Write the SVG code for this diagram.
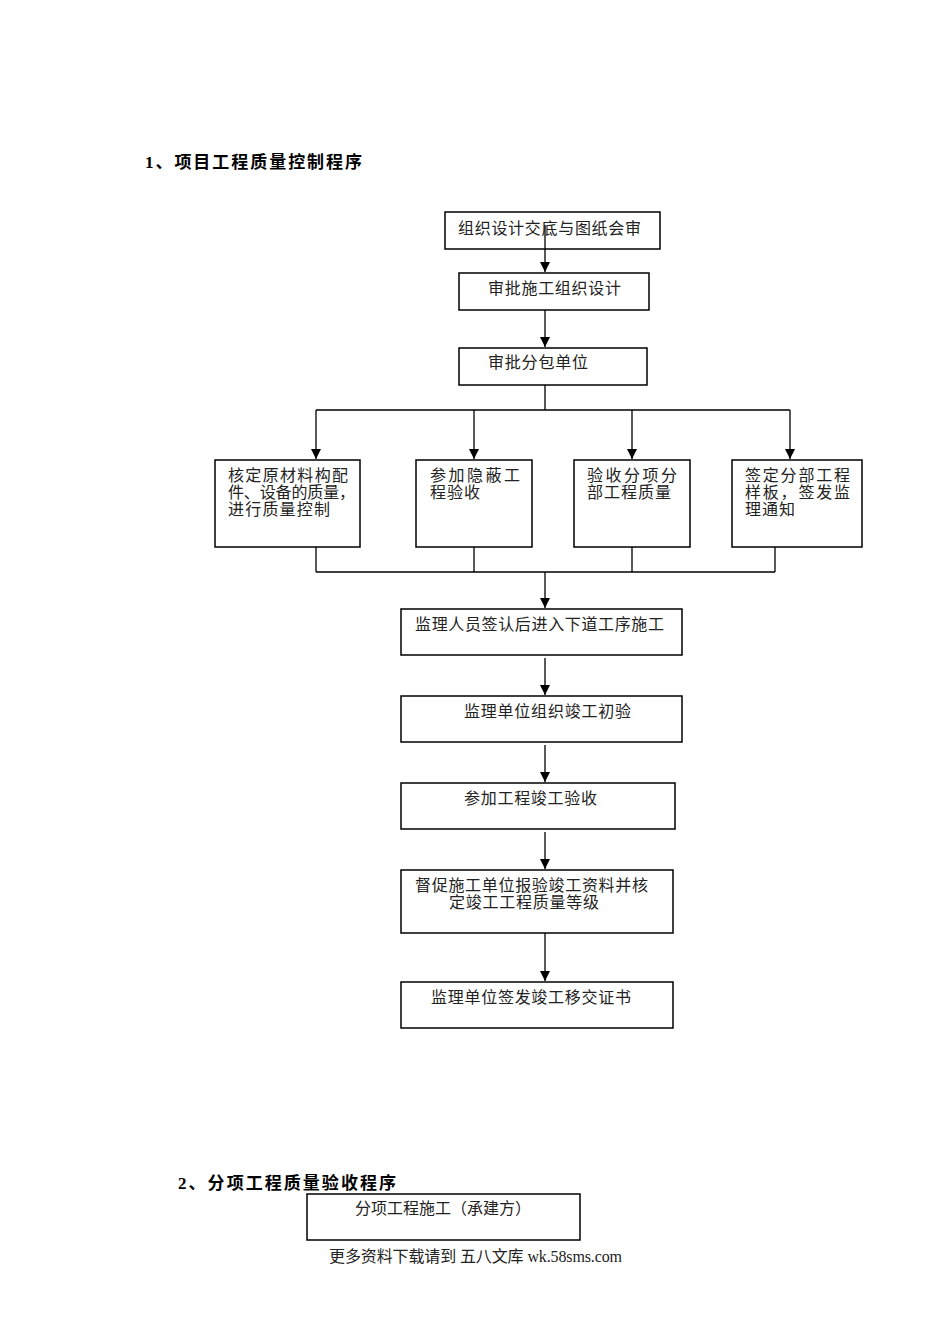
<svg xmlns="http://www.w3.org/2000/svg" width="950" height="1344" viewBox="0 0 950 1344">
<defs>
<marker id="arr" viewBox="0 0 10 10" refX="10" refY="5" markerWidth="10" markerHeight="10" markerUnits="userSpaceOnUse" orient="auto">
<path d="M0,0 L10,5 L0,10 Z" fill="#000"/>
</marker>
<style>
.box{fill:#fff;stroke:#000;stroke-width:1.5}
.t{font-family:"Liberation Serif","Noto Sans CJK SC",serif;font-size:16px;fill:#222}
.h{font-family:"Liberation Serif","Noto Sans CJK SC",serif;font-size:17px;font-weight:bold;fill:#000}
.c{fill:none;stroke:#000;stroke-width:1.3}
</style>
</defs>
<rect width="950" height="1344" fill="#fff"/>
<text class="h" x="145" y="168" textLength="217" lengthAdjust="spacing">1、项目工程质量控制程序</text>

<g id="n1"><rect class="box" x="445" y="212" width="215" height="37"/><text class="t" x="458" y="234" textLength="183" lengthAdjust="spacing">组织设计交底与图纸会审</text></g>
<g id="n2"><rect class="box" x="459" y="273" width="190" height="37"/><text class="t" x="488" y="294" textLength="133" lengthAdjust="spacing">审批施工组织设计</text></g>
<g id="n3"><rect class="box" x="459" y="348" width="188" height="37"/><text class="t" x="488" y="368" textLength="100" lengthAdjust="spacing">审批分包单位</text></g>

<g id="n4"><rect class="box" x="215" y="460" width="145" height="87"/>
<text class="t" x="228" y="481" textLength="120" lengthAdjust="spacing">核定原材料构配</text>
<text class="t" x="228" y="498" textLength="127" lengthAdjust="spacing">件、设备的质量，</text>
<text class="t" x="228" y="515" textLength="102" lengthAdjust="spacing">进行质量控制</text></g>
<g id="n5"><rect class="box" x="416" y="460" width="116" height="87"/>
<text class="t" x="430" y="481" textLength="90" lengthAdjust="spacing">参加隐蔽工</text>
<text class="t" x="430" y="498" textLength="50" lengthAdjust="spacing">程验收</text></g>
<g id="n6"><rect class="box" x="574" y="460" width="116" height="87"/>
<text class="t" x="587" y="481" textLength="90" lengthAdjust="spacing">验收分项分</text>
<text class="t" x="587" y="498" textLength="84" lengthAdjust="spacing">部工程质量</text></g>
<g id="n7"><rect class="box" x="732" y="460" width="130" height="87"/>
<text class="t" x="745" y="481" textLength="105" lengthAdjust="spacing">签定分部工程</text>
<text class="t" x="745" y="498" textLength="105" lengthAdjust="spacing">样板，签发监</text>
<text class="t" x="745" y="515" textLength="50" lengthAdjust="spacing">理通知</text></g>

<g id="n8"><rect class="box" x="401" y="609" width="281" height="46"/><text class="t" x="415" y="630" textLength="249" lengthAdjust="spacing">监理人员签认后进入下道工序施工</text></g>
<g id="n9"><rect class="box" x="401" y="696" width="281" height="46"/><text class="t" x="464" y="717" textLength="167" lengthAdjust="spacing">监理单位组织竣工初验</text></g>
<g id="n10"><rect class="box" x="401" y="783" width="274" height="46"/><text class="t" x="464" y="804" textLength="133" lengthAdjust="spacing">参加工程竣工验收</text></g>
<g id="n11"><rect class="box" x="401" y="870" width="272" height="63"/>
<text class="t" x="415" y="891" textLength="233" lengthAdjust="spacing">督促施工单位报验竣工资料并核</text>
<text class="t" x="449" y="908" textLength="150" lengthAdjust="spacing">定竣工工程质量等级</text></g>
<g id="n12"><rect class="box" x="401" y="982" width="272" height="46"/><text class="t" x="431" y="1003" textLength="200" lengthAdjust="spacing">监理单位签发竣工移交证书</text></g>

<g id="connectors">
<path class="c" d="M545,225 V272" marker-end="url(#arr)"/>
<path class="c" d="M545,310 V347" marker-end="url(#arr)"/>
<path class="c" d="M545,385 V410 M316,410 H790"/>
<path class="c" d="M316,410 V459" marker-end="url(#arr)"/>
<path class="c" d="M474,410 V459" marker-end="url(#arr)"/>
<path class="c" d="M632,410 V459" marker-end="url(#arr)"/>
<path class="c" d="M790,410 V459" marker-end="url(#arr)"/>
<path class="c" d="M316,547 V572 M474,547 V572 M632,547 V572 M775,547 V572 M316,572 H775"/>
<path class="c" d="M545,572 V608" marker-end="url(#arr)"/>
<path class="c" d="M545,658 V695" marker-end="url(#arr)"/>
<path class="c" d="M545,745 V782" marker-end="url(#arr)"/>
<path class="c" d="M545,832 V869" marker-end="url(#arr)"/>
<path class="c" d="M545,933 V981" marker-end="url(#arr)"/>
</g>

<text class="h" x="178" y="1189" textLength="218" lengthAdjust="spacing">2、分项工程质量验收程序</text>
<g id="n13"><rect class="box" x="307" y="1194" width="273" height="46"/><text class="t" x="355" y="1214" textLength="176" lengthAdjust="spacing">分项工程施工（承建方）</text></g>
<text class="t" x="329" y="1262" textLength="293" lengthAdjust="spacing">更多资料下载请到 五八文库 wk.58sms.com</text>
</svg>
